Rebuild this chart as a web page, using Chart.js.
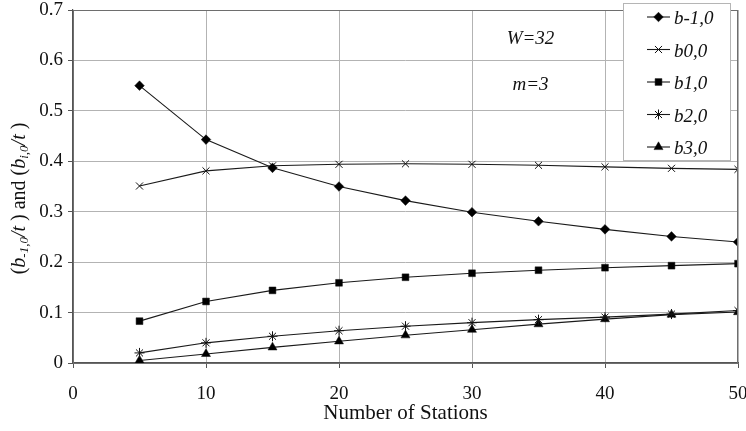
<!DOCTYPE html>
<html>
<head>
<meta charset="utf-8">
<script src="https://cdn.jsdelivr.net/npm/chart.js@4/dist/chart.umd.min.js"></script>
<style>
    html, body { margin: 0; padding: 0; background: #fff; }
    #wrap { width: 746px; height: 431px; }
</style>
</head>
<body>
<div id="wrap"><canvas id="stations-chart"></canvas></div>
<script>
//data
const STATIONS = [5, 10, 15, 20, 25, 30, 35, 40, 45, 50];
const SERIES_NAMES = ['b-1,0', 'b0,0', 'b1,0', 'b2,0', 'b3,0'];
const B_MINUS1 = [0.550, 0.443, 0.387, 0.350, 0.322, 0.299, 0.281, 0.265, 0.251, 0.240];
const B_0 = [0.351, 0.381, 0.391, 0.394, 0.395, 0.394, 0.392, 0.389, 0.386, 0.384];
const B_1 = [0.083, 0.122, 0.144, 0.159, 0.170, 0.178, 0.184, 0.189, 0.193, 0.197];
const B_2 = [0.020, 0.040, 0.053, 0.064, 0.073, 0.080, 0.086, 0.091, 0.097, 0.104];
const B_3 = [0.005, 0.018, 0.031, 0.043, 0.055, 0.066, 0.077, 0.087, 0.096, 0.101];
const X_TICKS = [0, 10, 20, 30, 40, 50];
const Y_TICKS = [0, 0.1, 0.2, 0.3, 0.4, 0.5, 0.6, 0.7];
const NOTES = ['W=32', 'm=3'];

const SERIF = '"Liberation Serif", "Times New Roman", serif';
const POINT_STYLES = ['rectRot', 'crossRot', 'rect', 'star', 'triangle'];
const POINT_SIZES = [4.8, 5, 4.8, 5, 5.2];

function make_dataset(i, values){
    return {
        label: SERIES_NAMES[i],
        data: STATIONS.map((s, k) => ({x: s, y: values[k]})),
        borderColor: '#1a1a1a',
        borderWidth: 1.1,
        pointStyle: POINT_STYLES[i],
        pointRadius: POINT_SIZES[i],
        pointBackgroundColor: '#000',
        pointBorderColor: '#111',
        pointBorderWidth: (i == 1 || i == 3) ? 1 : 0.5,
        fill: false,
        tension: 0
    };
}

//frame round the plot area, the boxed legend, the notes and the y title
const extras_plugin = {
    id: 'extras',
    afterDraw(chart){
        const ctx = chart.ctx;
        const area = chart.chartArea;
        const xs = chart.scales.x, ys = chart.scales.y;
        ctx.save();

        //frame
        ctx.strokeStyle = '#6e6e6e';
        ctx.lineWidth = 1;
        ctx.strokeRect(area.left + 0.5, area.top + 0.5, area.right - area.left - 1, area.bottom - area.top);

        //notes
        ctx.fillStyle = '#111';
        ctx.font = 'italic 19px ' + SERIF;
        ctx.textAlign = 'center';
        ctx.textBaseline = 'middle';
        const note_pos = [[34.4, 0.643], [34.4, 0.552]];
        NOTES.forEach((t, i) => {
            ctx.fillText(t, xs.getPixelForValue(note_pos[i][0]), ys.getPixelForValue(note_pos[i][1]));
        });

        //legend box
        const bx = area.right - 115, by = area.top - 7, bw = 107, bh = 157;
        ctx.fillStyle = '#fff';
        ctx.fillRect(bx, by, bw, bh);
        ctx.strokeStyle = '#b5b5b5';
        ctx.strokeRect(bx + 0.5, by + 0.5, bw, bh);
        chart.data.datasets.forEach((ds, i) => {
            const ly = by + 14 + i * 32.5;
            const lx = bx + 24;
            ctx.strokeStyle = '#1a1a1a';
            ctx.lineWidth = 1.1;
            ctx.beginPath();
            ctx.moveTo(lx, ly);
            ctx.lineTo(lx + 23, ly);
            ctx.stroke();
            ctx.fillStyle = '#000';
            ctx.strokeStyle = '#111';
            ctx.lineWidth = ds.pointBorderWidth;
            Chart.helpers.drawPoint(ctx, {
                pointStyle: ds.pointStyle,
                radius: ds.pointRadius,
                borderWidth: ds.pointBorderWidth
            }, lx + 11.5, ly);
            ctx.fillStyle = '#111';
            ctx.font = 'italic 19px ' + SERIF;
            ctx.textAlign = 'left';
            ctx.textBaseline = 'middle';
            ctx.fillText(ds.label, lx + 27, ly + 2);
        });

        //y title with subscripts
        const big = 20, small = 13;
        const parts = [
            {t: '(', f: big + 'px ' + SERIF, d: 0},
            {t: 'b', f: 'italic ' + big + 'px ' + SERIF, d: 0},
            {t: '-1,0', f: 'italic ' + small + 'px ' + SERIF, d: 5},
            {t: '/t', f: 'italic ' + big + 'px ' + SERIF, d: 0},
            {t: ' ) and (', f: big + 'px ' + SERIF, d: 0},
            {t: 'b', f: 'italic ' + big + 'px ' + SERIF, d: 0},
            {t: 'i,0', f: 'italic ' + small + 'px ' + SERIF, d: 5},
            {t: '/t', f: 'italic ' + big + 'px ' + SERIF, d: 0},
            {t: ' )', f: big + 'px ' + SERIF, d: 0}
        ];
        let total = 0;
        parts.forEach(p => { ctx.font = p.f; p.w = ctx.measureText(p.t).width; total += p.w; });
        ctx.translate(20, (area.top + area.bottom) / 2 + 12);
        ctx.rotate(-Math.PI / 2);
        ctx.fillStyle = '#111';
        ctx.textAlign = 'left';
        ctx.textBaseline = 'middle';
        let cx = -total / 2;
        parts.forEach(p => {
            ctx.font = p.f;
            ctx.fillText(p.t, cx, p.d);
            cx += p.w;
        });
        ctx.restore();
    }
};

function stations_chart(){
    const data = {
        datasets: [
            make_dataset(0, B_MINUS1),
            make_dataset(1, B_0),
            make_dataset(2, B_1),
            make_dataset(3, B_2),
            make_dataset(4, B_3)
        ]
    };
    const config = {
        type: 'line',
        data: data,
        options: {
            responsive: true,
            maintainAspectRatio: false,
            animation: false,
            layout: { padding: { left: 0, right: 8, top: 10, bottom: 0 } },
            plugins: {
                legend: { display: false },
                tooltip: { enabled: false }
            },
            scales: {
                x: {
                    type: 'linear',
                    min: 0,
                    max: 50,
                    afterBuildTicks: (scale) => { scale.ticks = X_TICKS.map(v => ({value: v})); },
                    afterFit: (scale) => { scale.height = 68; scale.paddingLeft = 0; scale.paddingRight = 0; },
                    grid: { color: '#b3b3b3', lineWidth: 1, tickLength: 5, tickColor: '#555' },
                    border: { color: '#555', width: 1.2 },
                    ticks: {
                        color: '#111',
                        font: { family: SERIF, size: 19 },
                        padding: 15,
                        maxRotation: 0
                    },
                    title: {
                        display: true,
                        text: 'Number of Stations',
                        color: '#111',
                        font: { family: SERIF, size: 21 },
                        padding: { top: 0, bottom: 5 }
                    }
                },
                y: {
                    min: 0,
                    max: 0.7,
                    afterBuildTicks: (scale) => { scale.ticks = Y_TICKS.map(v => ({value: v})); },
                    afterFit: (scale) => { scale.width = 73; scale.paddingTop = 0; scale.paddingBottom = 0; },
                    grid: { color: '#b3b3b3', lineWidth: 1, tickLength: 5, tickColor: '#555' },
                    border: { color: '#555', width: 1.2 },
                    ticks: {
                        color: '#111',
                        font: { family: SERIF, size: 19 },
                        padding: 5,
                        callback: (v) => String(Math.round(v * 10) / 10)
                    }
                }
            }
        },
        plugins: [extras_plugin]
    };
    new Chart(document.getElementById('stations-chart'), config);
}

stations_chart();
</script>
</body>
</html>
